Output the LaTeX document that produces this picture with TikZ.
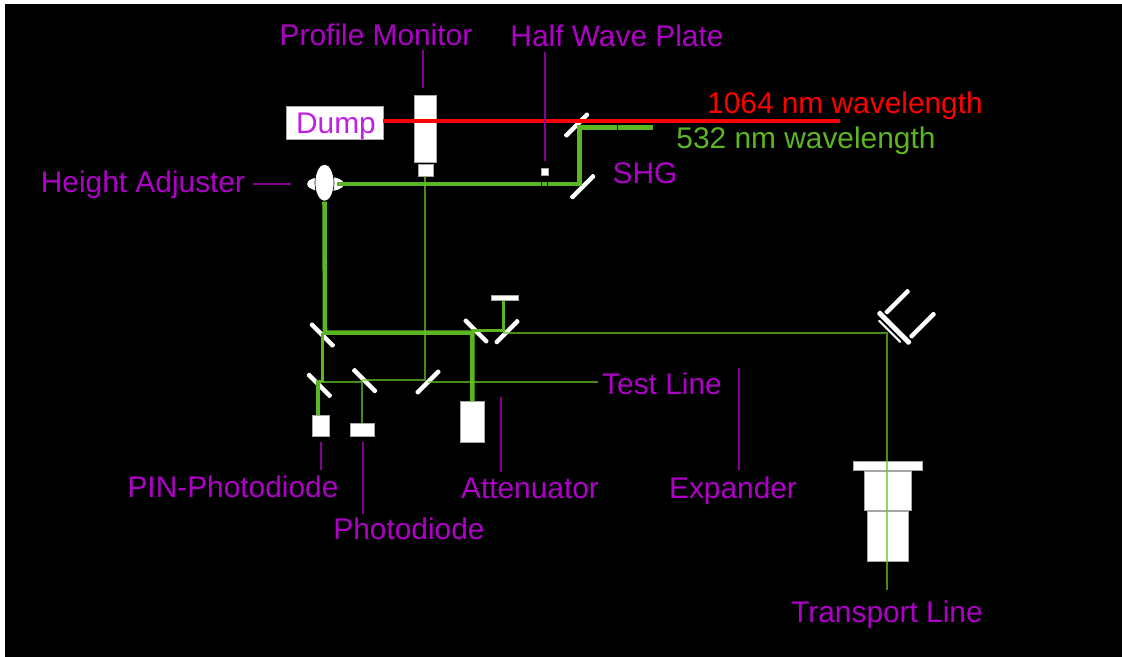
\documentclass[tikz,border=0pt]{standalone}
\usepackage{fontspec}
\setmainfont{Liberation Sans}
\definecolor{labelpurple}{RGB}{175,0,200}
\definecolor{dumppurple}{RGB}{195,30,230}
\definecolor{leadpurple}{RGB}{135,0,150}
\definecolor{beamgreen}{RGB}{92,182,34}
\definecolor{thingreen}{RGB}{100,200,40}
\usetikzlibrary{arrows.meta,positioning,shapes.geometric,fit,calc}

\begin{document}
\begin{tikzpicture}[
  x=0.75pt, y=-0.75pt,
  whitebox/.style 2 args={rectangle, fill=white, draw=gray!70, line width=0.5pt, inner sep=0pt, outer sep=0pt, minimum width=#1*0.75pt, minimum height=#2*0.75pt},
  mirror/.style={rectangle, fill=white, rounded corners=0.8pt, inner sep=0pt, outer sep=0pt, minimum width=33*0.75pt, minimum height=4.4*0.75pt, rotate=#1},
  label/.style={font=\fontsize{22.4pt}{24pt}\selectfont, text=labelpurple, inner sep=0pt, anchor=base},
  lead/.style={leadpurple, line width=1.4pt},
  thickbeam/.style={beamgreen, line width=3.4pt},
  midbeam/.style={beamgreen, line width=2.4pt},
  thinbeam/.style={thingreen, opacity=0.7, line width=1.5pt},
  slit/.style={rectangle, fill=black, inner sep=0pt, minimum width=0.8pt, minimum height=8*0.75pt},
]
\useasboundingbox[fill=white] (0,0) rectangle (1122,657);
\fill[black] (5,4) rectangle (1122,657);

% Labels
\node[label] (profilelabel) at (376,45.5) {Profile Monitor};
\node[label] (halfwavelabel) at (617,46.5) {Half Wave Plate};
\node[label] (heightlabel) at (143,192.5) {Height Adjuster};
\node[label] (shglabel) at (645,183) {SHG};
\node[label] (testlabel) at (662,394.5) {Test Line};
\node[label] (pinlabel) at (233,497.5) {PIN-Photodiode};
\node[label] (photolabel) at (409,539.5) {Photodiode};
\node[label] (attenlabel) at (530,498) {Attenuator};
\node[label] (expandlabel) at (733,498) {Expander};
\node[label] (transportlabel) at (887,622.5) {Transport Line};
\node[label, text=red] (redlabel) at (845,113) {1064 nm wavelength};
\node[label, text=beamgreen] (greenlabel) at (806,148.5) {532 nm wavelength};

% Boxes
\node[whitebox={97}{33}] (dump) at (334.5,122.5) {};
\node[label, text=dumppurple] (dumplabel) at (336,133.5) {Dump};
\node[whitebox={22}{67}] (monitor) at (425,128.5) {};
\node[whitebox={15}{12}] (monitorhead) at (425.5,170) {};
\node[whitebox={6.6}{7}] (waveplate) at (545,171.5) {};
\node[whitebox={17}{21}] (pin) at (321,425.5) {};
\node[whitebox={24}{13}] (photo) at (362.7,429.5) {};
\node[whitebox={24}{41}] (atten) at (472.3,421.8) {};
\node[whitebox={27}{5.4}] (stopper) at (504.5,298) {};
\node[whitebox={69}{8.5}] (plate) at (887.8,465.8) {};
\node[whitebox={47}{38.5}] (tubeupper) at (887.7,490.8) {};
\node[whitebox={41}{50}] (tubelower) at (887.8,536.7) {};

% Height adjuster
\node[ellipse, fill=white, inner sep=0pt, minimum width=37*0.75pt, minimum height=15*0.75pt] (lensside) at (325.5,184) {};
\node[ellipse, fill=white, draw=black, line width=0.5pt, inner sep=0pt, minimum width=19*0.75pt, minimum height=37*0.75pt] (lens) at (324.5,182.7) {};

% Mirrors
\node[mirror=45] (shgupper) at (576.7,125) {};
\node[mirror=45] (shglower) at (582.7,186.7) {};
\node[mirror=-45] (mirrorA) at (322.3,335) {};
\node[mirror=-45] (mirrorB) at (319.3,385.3) {};
\node[mirror=-45] (mirrorC) at (364.7,380.7) {};
\node[mirror=45] (mirrorD) at (428,382) {};
\node[mirror=-45] (mirrorE) at (476,331) {};
\node[mirror=45] (mirrorF) at (507,331.7) {};
\node[mirror=-45, minimum width=45*0.75pt, minimum height=5*0.75pt] (steerback) at (894.2,327.8) {};
\node[mirror=-45, minimum width=32*0.75pt, minimum height=2*0.75pt] (steerthin) at (889.7,331.3) {};
\node[mirror=45] (steerup) at (897.2,301.7) {};
\node[mirror=45, minimum width=35*0.75pt] (steerdown) at (922.5,325.2) {};

% Corner points of the beams
\coordinate (redend) at (840,121);
\coordinate (lensout) at (337,184);
\coordinate (shgbend) at (579.3,184);
\coordinate (shgtop) at (579.3,127.3);
\coordinate (greenend) at (653,127.3);
\coordinate (splitA) at (325,332.7);
\coordinate (splitE) at (472.3,332.7);
\coordinate (midA) at (322.3,332.7);
\coordinate (midB) at (322.3,381.7);
\coordinate (midBdown) at (318,381.7);
\coordinate (thinC) at (361.7,381.7);
\coordinate (thinD) at (424.7,380);
\coordinate (testend) at (598,382);
\coordinate (topE) at (472.3,330.7);
\coordinate (topF) at (503.3,330.7);
\coordinate (thinF) at (503.3,332.7);
\coordinate (steerbend) at (887.3,332.7);
\coordinate (transportend) at (887.3,590);

% Beams
\draw[red, line width=3.2pt] (dump.east |- redend) -- (redend);
\draw[thickbeam] (lensout) -- (shgbend) -- (shgtop) -- (greenend);
\draw[thickbeam] (lens.south) -- (splitA) -- (splitE) -- (atten.north);
\draw[midbeam] (midA) -- (midB);
\draw[midbeam] (midB) -- (midBdown) -- (midBdown |- pin.north);
\draw[midbeam] (topE) -- (topF) -- (topF |- stopper.south);
\draw[thinbeam] (midB) -- (thinC) -- (thinC |- photo.north);
\draw[thinbeam] (thinC |- thinD) -- (thinD) -- (thinD |- monitorhead.south);
\draw[thinbeam] (mirrorD.center |- testend) -- (testend);
\draw[thinbeam] (thinF) -- (steerbend) -- (transportend);

% Slits in the beams
\node[slit] (slitA) at (541.7,184) {};
\node[slit] (slitB) at (547.3,184) {};
\node[slit] (slitC) at (617.3,127.3) {};

% Label leads
\coordinate (profiletop) at (423.3,50);
\coordinate (profileend) at (423.3,88);
\coordinate (halfwavetop) at (544.7,52);
\coordinate (halfwaveend) at (544.7,160.7);
\coordinate (heightstart) at (253,184);
\coordinate (heightend) at (290.7,184);
\coordinate (pintop) at (321,441.7);
\coordinate (pinend) at (321,470);
\coordinate (phototop) at (363.3,441.7);
\coordinate (photoend) at (363.3,514);
\coordinate (attentop) at (501.3,396.7);
\coordinate (attenend) at (501.3,472);
\coordinate (expandtop) at (739,368);
\coordinate (expandend) at (739,470);
\draw[lead] (profiletop) -- (profileend);
\draw[lead] (halfwavetop) -- (halfwaveend);
\draw[lead] (heightstart) -- (heightend);
\draw[lead] (pintop) -- (pinend);
\draw[lead] (phototop) -- (photoend);
\draw[lead] (attentop) -- (attenend);
\draw[lead] (expandtop) -- (expandend);

\end{tikzpicture}
\end{document}
